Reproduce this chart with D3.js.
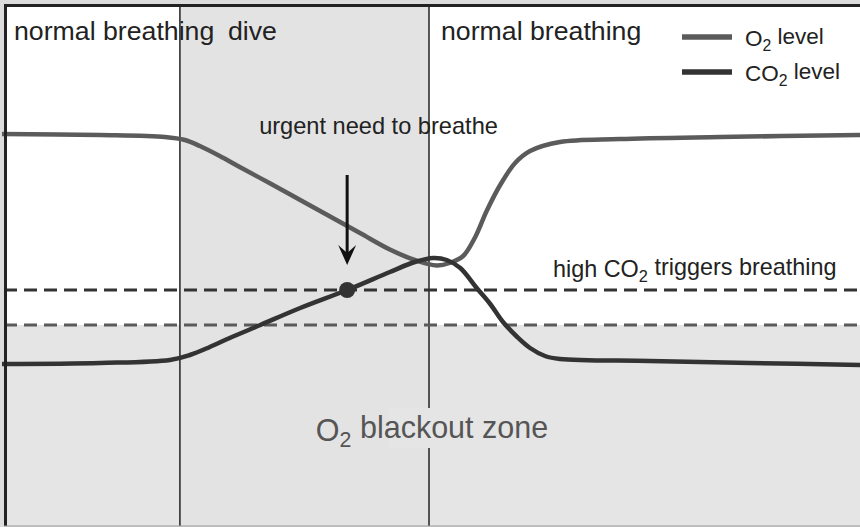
<!DOCTYPE html>
<html lang="en">
<head>
    <meta charset="UTF-8">
    <title></title>
    <script type="text/javascript" src="https://cdn.jsdelivr.net/npm/d3@7/dist/d3.min.js"></script>
    <style>
        body{ margin:0; background:#fff; }
        svg{ display:block; font-family:"Liberation Sans", Arial, sans-serif; }
        .lbl{ fill:#222; }
    </style>
</head>
<body>
<div id="chart"></div>
<script type="text/javascript">
    // time in s, levels in arbitrary units
    var phases = [
        {name:"normal breathing", start:0, end:25},
        {name:"dive", start:25, end:60},
        {name:"normal breathing", start:60, end:121}
    ];
    var o2Time  = [0,13.8,22.9,25.7,27.8,30.6,33.4,37.7,41.9,46.1,50.3,54.5,58,61.1,62.9,64.8,66.5,68.1,70,72.1,74.2,78.4,86.8,100.9,121];
    var o2Level = [78.2,78,77.6,77,75.8,73.8,71.6,68.3,65,61.7,58.4,55.1,53,51.9,52.4,53.8,57.6,62.8,68,72.4,74.8,76.6,77.2,77.6,78];
    var co2Time  = [0,13.8,23.6,26.4,29.2,32,36.3,41.9,48.5,54.5,58,60.6,62.5,64.4,66.7,68.6,70.4,72.4,74.2,76.3,78.4,91,105.1,121];
    var co2Level = [32.2,32.4,33,34,35.6,37.4,40,43.4,47,50.6,52.6,53.4,53,51.4,47.4,44.2,40.6,37.6,35.4,33.8,33.2,32.8,32.4,32];
    var co2Trigger = 47;
    var blackout = 40;
    var urgent = {t:48.5, level:47};

    var W = 860, H = 527;
    var x = d3.scaleLinear().domain([0,120]).range([2,856]);
    var y = d3.scaleLinear().domain([0,100]).range([525,25]);

    var svg = d3.select("#chart").append("svg").attr("width",W).attr("height",H);

    svg.append("rect").attr("width",W).attr("height",H).attr("fill","#dcdcdc");
    svg.append("rect").attr("x",4).attr("y",4).attr("width",W-4).attr("height",522).attr("fill","#fff");

    // blackout zone
    svg.append("rect").attr("x",4).attr("y",y(blackout)).attr("width",W-4)
        .attr("height",526-y(blackout)).attr("fill","#e5e5e5");
    // dive zone
    svg.append("rect").attr("x",x(phases[1].start)).attr("y",4)
        .attr("width",x(phases[1].end)-x(phases[1].start)).attr("height",522).attr("fill","#e3e3e3");

    // phase separators
    svg.selectAll("line.sep").data([phases[1].start, phases[1].end]).enter()
        .append("line").attr("class","sep")
        .attr("x1",function(d){return x(d)}).attr("x2",function(d){return x(d)})
        .attr("y1",4).attr("y2",526)
        .attr("stroke","#222").attr("stroke-width",1.5);

    // thresholds
    var th = [{v:co2Trigger, c:"#333"},{v:blackout, c:"#5a5a5a"}];
    svg.selectAll("line.th").data(th).enter()
        .append("line").attr("class","th")
        .attr("x1",4).attr("x2",W)
        .attr("y1",function(d){return y(d.v)}).attr("y2",function(d){return y(d.v)})
        .attr("stroke",function(d){return d.c}).attr("stroke-width",3)
        .attr("stroke-dasharray","13,7");

    var line = d3.line()
        .x(function(d){return x(d[0])})
        .y(function(d){return y(d[1])})
        .curve(d3.curveCatmullRom.alpha(0.5));

    var o2 = d3.zip(o2Time, o2Level);
    var co2 = d3.zip(co2Time, co2Level);

    svg.append("path").datum(o2).attr("d",line)
        .attr("fill","none").attr("stroke","#5b5b5b").attr("stroke-width",4.5);
    svg.append("path").datum(co2).attr("d",line)
        .attr("fill","none").attr("stroke","#333").attr("stroke-width",4.5);

    // urgent point + arrow
    svg.append("circle").attr("cx",x(urgent.t)).attr("cy",y(urgent.level)).attr("r",8).attr("fill","#333");
    var ax = x(urgent.t), atip = y(urgent.level)-25;
    svg.append("line").attr("x1",ax).attr("x2",ax).attr("y1",175).attr("y2",atip-6)
        .attr("stroke","#111").attr("stroke-width",3);
    svg.append("path")
        .attr("d","M"+ax+","+atip+" L"+(ax-9)+","+(atip-20)+" L"+ax+","+(atip-12)+" L"+(ax+9)+","+(atip-20)+" Z")
        .attr("fill","#111");

    // borders
    svg.append("line").attr("x1",4).attr("x2",W).attr("y1",5.5).attr("y2",5.5).attr("stroke","#222").attr("stroke-width",3);
    svg.append("line").attr("x1",5.5).attr("x2",5.5).attr("y1",4).attr("y2",526).attr("stroke","#222").attr("stroke-width",3);
    svg.append("line").attr("x1",4).attr("x2",W).attr("y1",526).attr("y2",526).attr("stroke","#9a9a9a").attr("stroke-width",1);

    // phase labels
    svg.append("text").attr("class","lbl").attr("x",14).attr("y",40).attr("font-size",26.7).text(phases[0].name);
    svg.append("text").attr("class","lbl").attr("x",228).attr("y",40).attr("font-size",26.7).text(phases[1].name);
    svg.append("text").attr("class","lbl").attr("x",441).attr("y",40).attr("font-size",26.7).text(phases[2].name);

    function sub(t, a, b, rest){
        t.append("tspan").text(a);
        t.append("tspan").attr("font-size","0.7em").attr("dy","0.3em").text(b);
        t.append("tspan").attr("dy","-0.3em").text(rest);
        return t;
    }

    svg.append("text").attr("class","lbl").attr("x",378.5).attr("y",134)
        .attr("text-anchor","middle").attr("font-size",23.6).text("urgent need to breathe");

    sub(svg.append("text").attr("class","lbl").attr("x",553).attr("y",277).attr("font-size",23.4),
        "high CO","2"," triggers breathing");

    // blackout label
    svg.append("rect").attr("x",x(60)-40).attr("y",408).attr("width",80).attr("height",40).attr("fill","#e5e5e5");
    sub(svg.append("text").attr("x",432).attr("y",441).attr("text-anchor","middle")
        .attr("font-size",30.5).attr("fill","#555"), "O","2"," blackout zone");

    // legend
    var leg = [{a:"O",rest:" level",c:"#5b5b5b"},{a:"CO",rest:" level",c:"#333"}];
    var lg = svg.selectAll("g.leg").data(leg).enter().append("g").attr("class","leg")
        .attr("transform",function(d,i){return "translate(682,"+(37+i*35)+")"});
    lg.append("line").attr("x1",0).attr("x2",50).attr("stroke",function(d){return d.c}).attr("stroke-width",5.5);
    lg.each(function(d){
        sub(d3.select(this).append("text").attr("class","lbl").attr("x",63).attr("y",9).attr("font-size",22.5),
            d.a,"2",d.rest);
    });
</script>
</body>
</html>
